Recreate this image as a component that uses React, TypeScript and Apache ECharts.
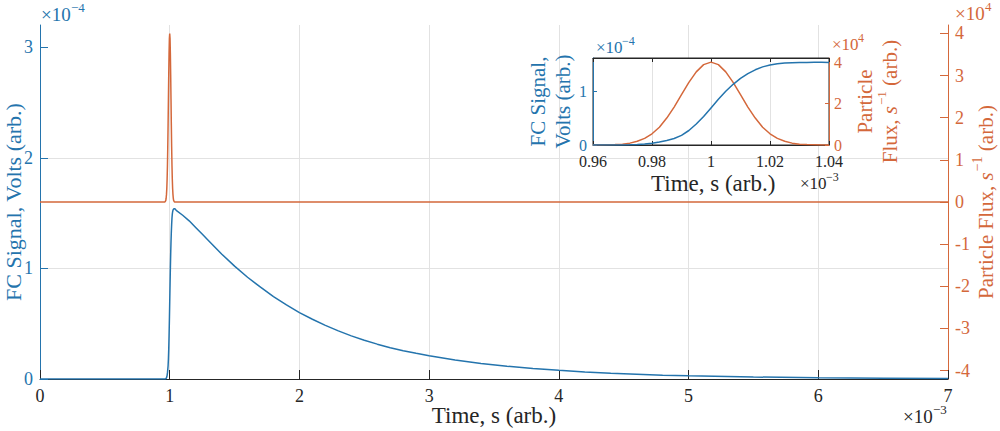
import React, { useEffect, useRef } from 'react';
import * as echarts from 'echarts';

const BLUE = '#2474ad';
const ORANGE = '#d4683b';
const DARK = '#262626';
const GRIDC = '#e2e2e2';
const FONT = '"Liberation Serif", "Times New Roman", serif';

// axis ticks
const xTicks = [0, 1, 2, 3, 4, 5, 6, 7];
const leftTicks = [0, 1, 2, 3];
const rightTicks = [-4, -3, -2, -1, 0, 1, 2, 3, 4];
const insetLeftTicks = [0, 1];
const insetRightTicks = [0, 2, 4];

// time in units of 1e-3 s; signal in units of 1e-4 V; flux in units of 1e4 s^-1
const baseTime = [0, 0.9, 0.96];
const baseSignal = [0, 0, 0];
const baseFlux = [0, 0, 0];

const pulseTime = [
  0.96, 0.9625, 0.965, 0.9675, 0.97, 0.9725, 0.975, 0.9775, 0.98, 0.9825, 0.985,
  0.9875, 0.99, 0.9925, 0.995, 0.9975, 1.0, 1.0025, 1.005, 1.0075, 1.01, 1.0125,
  1.015, 1.0175, 1.02, 1.0225, 1.025, 1.0275, 1.03, 1.0325, 1.035, 1.0375, 1.04,
];
const pulseFlux = [
  0.0, 0.0, 0.01, 0.02, 0.04, 0.09, 0.18, 0.32, 0.54, 0.86, 1.3,
  1.83, 2.43, 3.02, 3.53, 3.88, 4.0, 3.88, 3.53, 3.02, 2.43, 1.83,
  1.3, 0.86, 0.54, 0.32, 0.18, 0.09, 0.04, 0.02, 0.01, 0.0, 0.0,
];
const pulseSignal = [
  0.0, 0.0, 0.001, 0.001, 0.002, 0.005, 0.01, 0.019, 0.033, 0.055, 0.085,
  0.12, 0.18, 0.27, 0.39, 0.53, 0.69, 0.85, 1.0, 1.13, 1.24, 1.33,
  1.4, 1.455, 1.49, 1.512, 1.525, 1.532, 1.536, 1.538, 1.539, 1.539, 1.538,
];

const decayTime = [
  1.05, 1.1, 1.15, 1.2, 1.25, 1.3, 1.4, 1.5, 1.6, 1.7, 1.8, 1.9, 2.0, 2.1, 2.2, 2.3,
  2.4, 2.5, 2.6, 2.7, 2.8, 2.9, 3.0, 3.2, 3.4, 3.6, 3.8, 4.0, 4.2, 4.4, 4.6, 4.8,
  5.0, 5.5, 6.0, 6.5, 7.0,
];
const decaySignal = [
  1.525, 1.48, 1.43, 1.37, 1.31, 1.25, 1.13, 1.02, 0.92, 0.83, 0.745, 0.67, 0.6, 0.54, 0.485, 0.435,
  0.39, 0.35, 0.315, 0.283, 0.255, 0.232, 0.21, 0.172, 0.141, 0.116, 0.095, 0.078, 0.064, 0.052, 0.043, 0.035,
  0.029, 0.018, 0.011, 0.0068, 0.0042,
];
const tailTime = [1.1, 7];
const tailFlux = [0, 0];

const zip = (a: number[], b: number[]) => a.map((v, i) => [v, b[i]]);

const tickFont = { fontFamily: FONT, fontSize: 18 };
const insetTickFont = { fontFamily: FONT, fontSize: 16 };

export default function App() {
  const ref = useRef<HTMLDivElement>(null);
  useEffect(() => {
    document.body.style.margin = '0';
    if (!ref.current) return;
    const chart = echarts.init(ref.current, null, { renderer: 'svg' });

    const mainSignal = [...zip(baseTime, baseSignal), ...zip(pulseTime.slice(1), pulseSignal.slice(1)), ...zip(decayTime, decaySignal)];
    const mainFlux = [...zip(baseTime, baseFlux), ...zip(pulseTime.slice(1), pulseFlux.slice(1)), ...zip(tailTime, tailFlux)];

    const supText = (x: number, y: number, base: string, sup: string, color: string, size: number, supX: number, supY: number) => [
      { type: 'text', x, y, z: 10, style: { text: base, fill: color, fontFamily: FONT, fontSize: size, verticalAlign: 'middle', align: 'left' } },
      { type: 'text', x: supX, y: supY, z: 10, style: { text: sup, fill: color, fontFamily: FONT, fontSize: Math.round(size * 0.7), verticalAlign: 'middle', align: 'left' } },
    ];

    const option: any = {
      animation: false,
      grid: [
        { left: 40, right: 52, top: 25, bottom: 52, containLabel: false, outerBoundsMode: 'none', z: 0 },
        { left: 593, right: 171, top: 58, bottom: 286, containLabel: false, outerBoundsMode: 'none', show: true, backgroundColor: '#ffffff', borderColor: DARK, borderWidth: 1, z: 3 },
      ],
      xAxis: [
        {
          gridIndex: 0, type: 'value', min: 0, max: 7, interval: 1,
          axisLine: { show: true, onZero: false, lineStyle: { color: DARK, width: 1 } },
          axisTick: { show: true, inside: true, length: 9, lineStyle: { color: DARK }, customValues: xTicks },
          axisLabel: { ...tickFont, color: DARK, margin: 8, customValues: xTicks },
          splitLine: { show: true, lineStyle: { color: GRIDC, width: 1 } },
          name: 'Time, s (arb.)', nameLocation: 'middle', nameGap: 25, nameMoveOverlap: false,
          nameTextStyle: { fontFamily: FONT, fontSize: 23, color: DARK },
        },
        {
          gridIndex: 1, type: 'value', min: 0.96, max: 1.04, interval: 0.02, z: 4,
          axisLine: { show: true, onZero: false, lineStyle: { color: DARK, width: 1 } },
          axisTick: { show: true, inside: true, length: 4, lineStyle: { color: DARK } },
          axisLabel: { ...insetTickFont, color: DARK, margin: 8 },
          splitLine: { show: true, lineStyle: { color: GRIDC, width: 1 } },
        },
        {
          gridIndex: 1, type: 'value', position: 'top', min: 0.96, max: 1.04, interval: 0.02, z: 4,
          axisLine: { show: true, onZero: false, lineStyle: { color: DARK, width: 1 } },
          axisTick: { show: true, inside: true, length: 4, lineStyle: { color: DARK } },
          axisLabel: { show: false },
          splitLine: { show: false },
        },
      ],
      yAxis: [
        {
          gridIndex: 0, type: 'value', position: 'left', min: 0, max: 3.2, interval: 1,
          axisLine: { show: true, onZero: false, lineStyle: { color: BLUE, width: 1 } },
          axisTick: { show: true, inside: true, length: 8, lineStyle: { color: BLUE }, customValues: leftTicks },
          axisLabel: { ...tickFont, color: BLUE, margin: 7, customValues: leftTicks },
          splitLine: { show: true, showMaxLine: false, showMinLine: false, lineStyle: { color: GRIDC, width: 1 } },
          name: 'FC Signal, Volts (arb.)', nameLocation: 'middle', nameGap: 16, nameRotate: 90, nameMoveOverlap: false,
          nameTextStyle: { fontFamily: FONT, fontSize: 22, color: BLUE },
        },
        {
          gridIndex: 0, type: 'value', position: 'right', min: -4.2, max: 4.2,
          axisLine: { show: true, onZero: false, lineStyle: { color: ORANGE, width: 1 } },
          axisTick: { show: true, inside: true, length: 8, lineStyle: { color: ORANGE }, customValues: rightTicks },
          axisLabel: { ...tickFont, color: ORANGE, margin: 7, customValues: rightTicks },
          splitLine: { show: false },
          name: '{n|Particle Flux, }{i|s}{s|−1}{n| (arb.)}', nameLocation: 'middle', nameGap: 22, nameRotate: 90, nameMoveOverlap: false,
          nameTextStyle: {
            fontFamily: FONT, fontSize: 21, color: ORANGE,
            rich: {
              n: { fontFamily: FONT, fontSize: 21, color: ORANGE, lineHeight: 26, verticalAlign: 'bottom' },
              i: { fontFamily: FONT, fontSize: 21, color: ORANGE, fontStyle: 'italic', lineHeight: 26, verticalAlign: 'bottom' },
              s: { fontFamily: FONT, fontSize: 14, color: ORANGE, lineHeight: 26, verticalAlign: 'top', padding: [0, 0, 0, 1] },
            },
          },
        },
        {
          gridIndex: 1, type: 'value', position: 'left', min: 0, max: 1.62, interval: 1, z: 4,
          axisLine: { show: true, onZero: false, lineStyle: { color: BLUE, width: 1 } },
          axisTick: { show: true, inside: true, length: 4, lineStyle: { color: BLUE }, customValues: insetLeftTicks },
          axisLabel: { ...insetTickFont, color: BLUE, margin: 6, customValues: insetLeftTicks },
          splitLine: { show: true, showMaxLine: false, showMinLine: false, lineStyle: { color: GRIDC, width: 1 } },
          name: 'FC Signal,\nVolts (arb.)', nameLocation: 'middle', nameGap: 17, nameRotate: 90,
          nameTextStyle: { fontFamily: FONT, fontSize: 21, color: BLUE, lineHeight: 25 },
        },
        {
          gridIndex: 1, type: 'value', position: 'right', min: 0, max: 4.2, z: 4,
          axisLine: { show: true, onZero: false, lineStyle: { color: ORANGE, width: 1 } },
          axisTick: { show: true, inside: true, length: 4, lineStyle: { color: ORANGE }, customValues: insetRightTicks },
          axisLabel: { ...insetTickFont, color: ORANGE, margin: 5, customValues: insetRightTicks },
          splitLine: { show: false },
          name: '{n|Particle}\n{n|Flux, }{i|s}{s|−1}{n| (arb.)}', nameLocation: 'middle', nameGap: 21, nameRotate: 90,
          nameTextStyle: {
            fontFamily: FONT, fontSize: 21, color: ORANGE,
            rich: {
              n: { fontFamily: FONT, fontSize: 21, color: ORANGE, lineHeight: 25, verticalAlign: 'bottom' },
              i: { fontFamily: FONT, fontSize: 21, color: ORANGE, fontStyle: 'italic', lineHeight: 25, verticalAlign: 'bottom' },
              s: { fontFamily: FONT, fontSize: 13, color: ORANGE, lineHeight: 25, verticalAlign: 'top', padding: [0, 0, 0, 1] },
            },
          },
        },
      ],
      series: [
        {
          type: 'line', xAxisIndex: 0, yAxisIndex: 1, data: mainFlux, showSymbol: false, symbol: 'none',
          lineStyle: { color: ORANGE, width: 1.5 }, z: 2,
        },
        {
          type: 'line', xAxisIndex: 0, yAxisIndex: 0, data: mainSignal, showSymbol: false, symbol: 'none',
          lineStyle: { color: BLUE, width: 1.5 }, z: 2,
        },
        {
          type: 'line', xAxisIndex: 1, yAxisIndex: 3, data: zip(pulseTime, pulseFlux), showSymbol: false, symbol: 'none',
          lineStyle: { color: ORANGE, width: 1.5 }, z: 5,
        },
        {
          type: 'line', xAxisIndex: 1, yAxisIndex: 2, data: zip(pulseTime, pulseSignal), showSymbol: false, symbol: 'none',
          lineStyle: { color: BLUE, width: 1.5 }, z: 5,
        },
      ],
      graphic: [
        ...supText(41, 14, '×10', '−4', BLUE, 19, 71, 7),
        ...supText(955, 13, '×10', '4', ORANGE, 19, 985, 6),
        ...supText(903, 416, '×10', '−3', DARK, 19, 933, 409),
        ...supText(596, 47, '×10', '−4', BLUE, 17, 622, 41),
        ...supText(832, 44, '×10', '4', ORANGE, 17, 858, 38),
        ...supText(800, 183, '×10', '−3', DARK, 17, 826, 177),
        {
          type: 'text', x: 651, y: 183, z: 10,
          style: { text: 'Time, s (arb.)', fill: DARK, fontFamily: FONT, fontSize: 23, verticalAlign: 'middle', align: 'left' },
        },
      ],
    };
    chart.setOption(option);
    return () => chart.dispose();
  }, []);
  return <div ref={ref} style={{ width: 1000, height: 431 }} />;
}
